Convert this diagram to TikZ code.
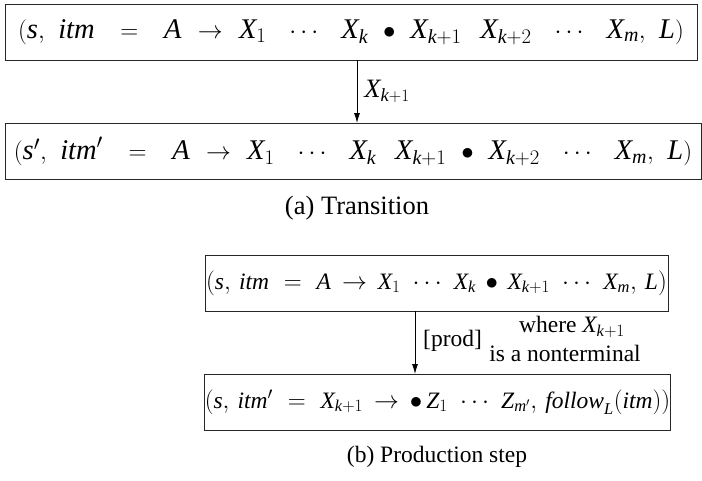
\documentclass[tikz,border=0pt]{standalone}
\usepackage{fontspec}
\setmainfont{Liberation Serif}
\usetikzlibrary{arrows.meta}
\newcommand\mi[1]{\mathit{#1}}
% adjustable gap inside the item formulas
\newlength\gu
\newcommand\g{\hspace{\gu}}
\begin{document}
\begin{tikzpicture}[x=1pt,y=-1pt,
  itembox/.style={draw=black!85, line width=1pt, minimum height=56pt, inner sep=0pt},
  itemA/.style={font=\fontsize{28.5}{32}\selectfont\setlength\gu{0.33em}},
  bigtxt/.style={font=\fontsize{26.5}{30}\selectfont},
  smalltxt/.style={font=\fontsize{23.5}{27}\selectfont\setlength\gu{0.17em}},
  lbl/.style={inner sep=0pt},
  flow/.style={-{Latex[length=10pt,width=6pt]}, line width=0.9pt}]
\useasboundingbox (0,0) rectangle (702,480);

% (a) transition over X_{k+1}
\node[itembox, itemA, minimum width=692pt] (a1) at (351,32)
  {$(\mi{s},\g \mi{itm}\g\g=\g\g \mi{A}\g\to\g \mi{X}_1\g\g\cdots\g\g \mi{X}_{\mi{k}}\g\bullet\g \mi{X}_{\mi{k}+1}\g\g \mi{X}_{\mi{k}+2}\g\g\cdots\g\g \mi{X}_{\mi{m}},\g \mi{L})$};
\node[itembox, itemA, minimum width=696pt] (a2) at (353,151.5)
  {$(\mi{s}',\g \mi{itm}'\g\g=\g\g \mi{A}\g\to\g \mi{X}_1\g\g\cdots\g\g \mi{X}_{\mi{k}}\g\g \mi{X}_{\mi{k}+1}\g\bullet\g \mi{X}_{\mi{k}+2}\g\g\cdots\g\g \mi{X}_{\mi{m}},\g \mi{L})$};
\coordinate (atop) at (357,60);
\coordinate (abot) at (357,123);
\draw[flow] (atop) -- node[lbl, bigtxt, right=7pt] (alab) {$\mi{X}_{\mi{k}+1}$} (abot);
\node[lbl, bigtxt] (acap) at (357,208) {(a) Transition};

% (b) production step
\node[itembox, smalltxt, minimum width=463pt] (b1) at (436.5,283)
  {$(\mi{s},\g \mi{itm}\g\g=\g\g \mi{A}\g\to\g \mi{X}_1\g\g\cdots\g\g \mi{X}_{\mi{k}}\g\bullet\g \mi{X}_{\mi{k}+1}\g\g\cdots\g\g \mi{X}_{\mi{m}},\g \mi{L})$};
\node[itembox, smalltxt, minimum width=465pt] (b2) at (437.5,402)
  {$(\mi{s},\g \mi{itm}'\g\g=\g\g \mi{X}_{\mi{k}+1}\g\to\g \bullet\,\mi{Z}_1\g\g\cdots\g\g \mi{Z}_{\mi{m}'},\g \mi{follow}_{\mi{L}}(\mi{itm}))$};
\coordinate (btop) at (415,311);
\coordinate (bbot) at (415,374);
\draw[flow] (btop) -- (bbot);
\node[lbl, smalltxt, anchor=west] (plab) at (423,341) {[prod]};
\node[lbl, smalltxt] (wlab) at (572,327) {where $\mi{X}_{\mi{k}+1}$};
\node[lbl, smalltxt] (nlab) at (565,353) {is a nonterminal};
\node[lbl, smalltxt] (bcap) at (437,457) {(b) Production step};
\end{tikzpicture}
\end{document}
